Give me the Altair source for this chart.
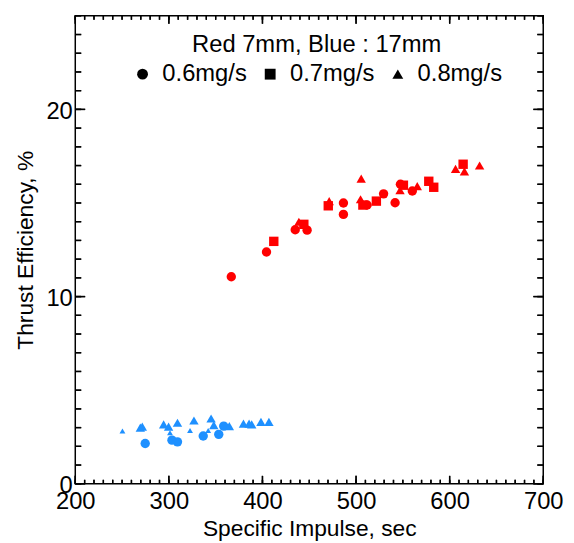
import altair as alt
import pandas as pd

# ---- data ----
red_06_isp = [366.7, 404.3, 435.0, 447.7, 486.5, 486.5, 511.8, 529.4, 541.7, 547.4, 560.1]
red_06_eff = [11.06, 12.38, 13.57, 13.55, 15.00, 14.39, 14.89, 15.49, 15.01, 16.00, 15.64]
red_07_isp = [412.1, 444.2, 470.3, 507.3, 521.7, 550.6, 577.7, 583.0, 614.4]
red_07_eff = [12.95, 13.86, 14.85, 14.89, 15.10, 15.95, 16.16, 15.84, 17.07]
red_08_isp = [438.9, 471.3, 505.5, 504.8, 547.0, 565.4, 606.3, 615.8, 632.0]
red_08_eff = [14.00, 15.10, 16.30, 15.20, 15.68, 15.90, 16.82, 16.69, 17.00]

blue_06_isp = [274.7, 303.3, 309.2, 336.7, 353.3, 358.6]
blue_06_eff = [2.15, 2.33, 2.24, 2.55, 2.64, 3.08]
blue_08_isp = [269.5, 271.6, 294.4, 299.7, 309.2, 326.8, 345.1, 348.0, 364.6, 379.7, 385.7, 388.5, 398.4, 406.9]
blue_08_eff = [3.00, 3.05, 3.17, 3.05, 3.26, 3.38, 3.49, 3.13, 3.08, 3.21, 3.21, 3.17, 3.31, 3.31]
blue_small_isp = [250.4, 301.2, 322.6, 342.0]
blue_small_eff = [2.82, 2.73, 2.85, 2.85]

flows = ["0.6mg/s", "0.7mg/s", "0.8mg/s"]
groups = ["Red", "Blue"]
legend_title = "Red 7mm, Blue : 17mm"
x_major = [200, 300, 400, 500, 600, 700]
x_minor = list(range(200, 701, 10))
y_major = [0, 10, 20]
y_minor = list(range(0, 26, 1))

rows = []
for g, f, xs, ys in [
    ("Red", flows[0], red_06_isp, red_06_eff),
    ("Red", flows[1], red_07_isp, red_07_eff),
    ("Red", flows[2], red_08_isp, red_08_eff),
    ("Blue", flows[0], blue_06_isp, blue_06_eff),
    ("Blue", flows[2], blue_08_isp, blue_08_eff),
]:
    for a, b in zip(xs, ys):
        rows.append({"isp": a, "eff": b, "group": g, "flow": f})
df = pd.DataFrame(rows)
df_small = pd.DataFrame({"isp": blue_small_isp, "eff": blue_small_eff})

W, H = 473, 473
FONT = "Liberation Sans"
xscale = alt.Scale(domain=[200, 700], nice=False, zero=False)
yscale = alt.Scale(domain=[0, 25], nice=False, zero=False)

x_axis = alt.Axis(values=x_major, ticks=False, domain=False, grid=False,
                  labelFont=FONT, labelFontSize=24, labelColor="black", labelPadding=6,
                  labelOverlap=False, labelFlush=False,
                  title="Specific Impulse, sec", titleFont=FONT, titleFontSize=23,
                  titleFontWeight="normal", titleColor="black", titlePadding=4)
y_axis = alt.Axis(values=y_major, ticks=False, domain=False, grid=False,
                  labelFont=FONT, labelFontSize=24, labelColor="black", labelPadding=3,
                  labelOffset=2, labelOverlap=False, labelFlush=False,
                  title="Thrust Efficiency, %", titleFont=FONT, titleFontSize=23,
                  titleFontWeight="normal", titleColor="black", titlePadding=9)


def xticks(vals, at, length):
    d = pd.DataFrame({"tx": vals})
    rule = alt.Chart(d).mark_rule(color="black", strokeWidth=1.4, opacity=1).encode(
        x=alt.X("tx:Q", scale=xscale, axis=None),
        y=alt.value(at), y2=alt.value(at + length if at == 0 else at - length))
    tick = alt.Chart(d).mark_tick(color="black", orient="vertical", size=length,
                                  thickness=1.4, opacity=1).encode(
        x=alt.X("tx:Q", scale=xscale, axis=None),
        y=alt.value(at + length / 2 if at == 0 else at - length / 2))
    return [rule, tick]


def yticks(vals, at, length):
    d = pd.DataFrame({"ty": vals})
    rule = alt.Chart(d).mark_rule(color="black", strokeWidth=1.4, opacity=1).encode(
        y=alt.Y("ty:Q", scale=yscale, axis=None),
        x=alt.value(at), x2=alt.value(at + length if at == 0 else at - length))
    tick = alt.Chart(d).mark_tick(color="black", orient="horizontal", size=length,
                                  thickness=1.4, opacity=1).encode(
        y=alt.Y("ty:Q", scale=yscale, axis=None),
        x=alt.value(at + length / 2 if at == 0 else at - length / 2))
    return [rule, tick]


tick_layers = (
    xticks(x_major, H, 8) + xticks(x_minor, H, 4)
    + xticks(x_major, 0, 8) + xticks(x_minor, 0, 4)
    + yticks(y_major, 0, 10) + yticks(y_minor, 0, 6)
    + yticks(y_major, W, 10) + yticks(y_minor, W, 6)
)

small = alt.Chart(df_small).mark_point(filled=True, opacity=1, size=35,
                                        shape="triangle-up", color="#1e90ff").encode(
    x=alt.X("isp:Q", scale=xscale, axis=None),
    y=alt.Y("eff:Q", scale=yscale, axis=None),
)

points = alt.Chart(df).mark_point(filled=True, opacity=1, size=90).encode(
    x=alt.X("isp:Q", scale=xscale, axis=x_axis),
    y=alt.Y("eff:Q", scale=yscale, axis=y_axis),
    color=alt.Color("group:N", scale=alt.Scale(domain=groups, range=["#ff0000", "#1e90ff"]),
                    legend=None),
    shape=alt.Shape("flow:N",
                    scale=alt.Scale(domain=flows, range=["circle", "square", "triangle-up"]),
                    legend=alt.Legend(
                        title=legend_title, orient="none", legendX=56, legendY=18,
                        direction="horizontal", titleAnchor="middle", titleLimit=500,
                        titleFont=FONT, titleFontSize=24, titleFontWeight="normal",
                        titleColor="black", titlePadding=5,
                        labelFont=FONT, labelFontSize=24, labelColor="black", labelLimit=300,
                        symbolFillColor="black", symbolStrokeColor="black",
                        symbolSize=120, symbolStrokeWidth=0, labelOffset=8,
                        columnPadding=11, padding=0)),
)

chart = alt.layer(points, small, *tick_layers).resolve_axis(
    x="independent", y="independent"
).properties(
    width=W, height=H,
    autosize=alt.AutoSizeParams(type="pad"),
    padding={"left": 6, "top": 4, "right": 2, "bottom": 2},
).configure_view(stroke="black", strokeWidth=1.5)

chart.save("out.html", embed_options={"renderer": "svg", "actions": False})
